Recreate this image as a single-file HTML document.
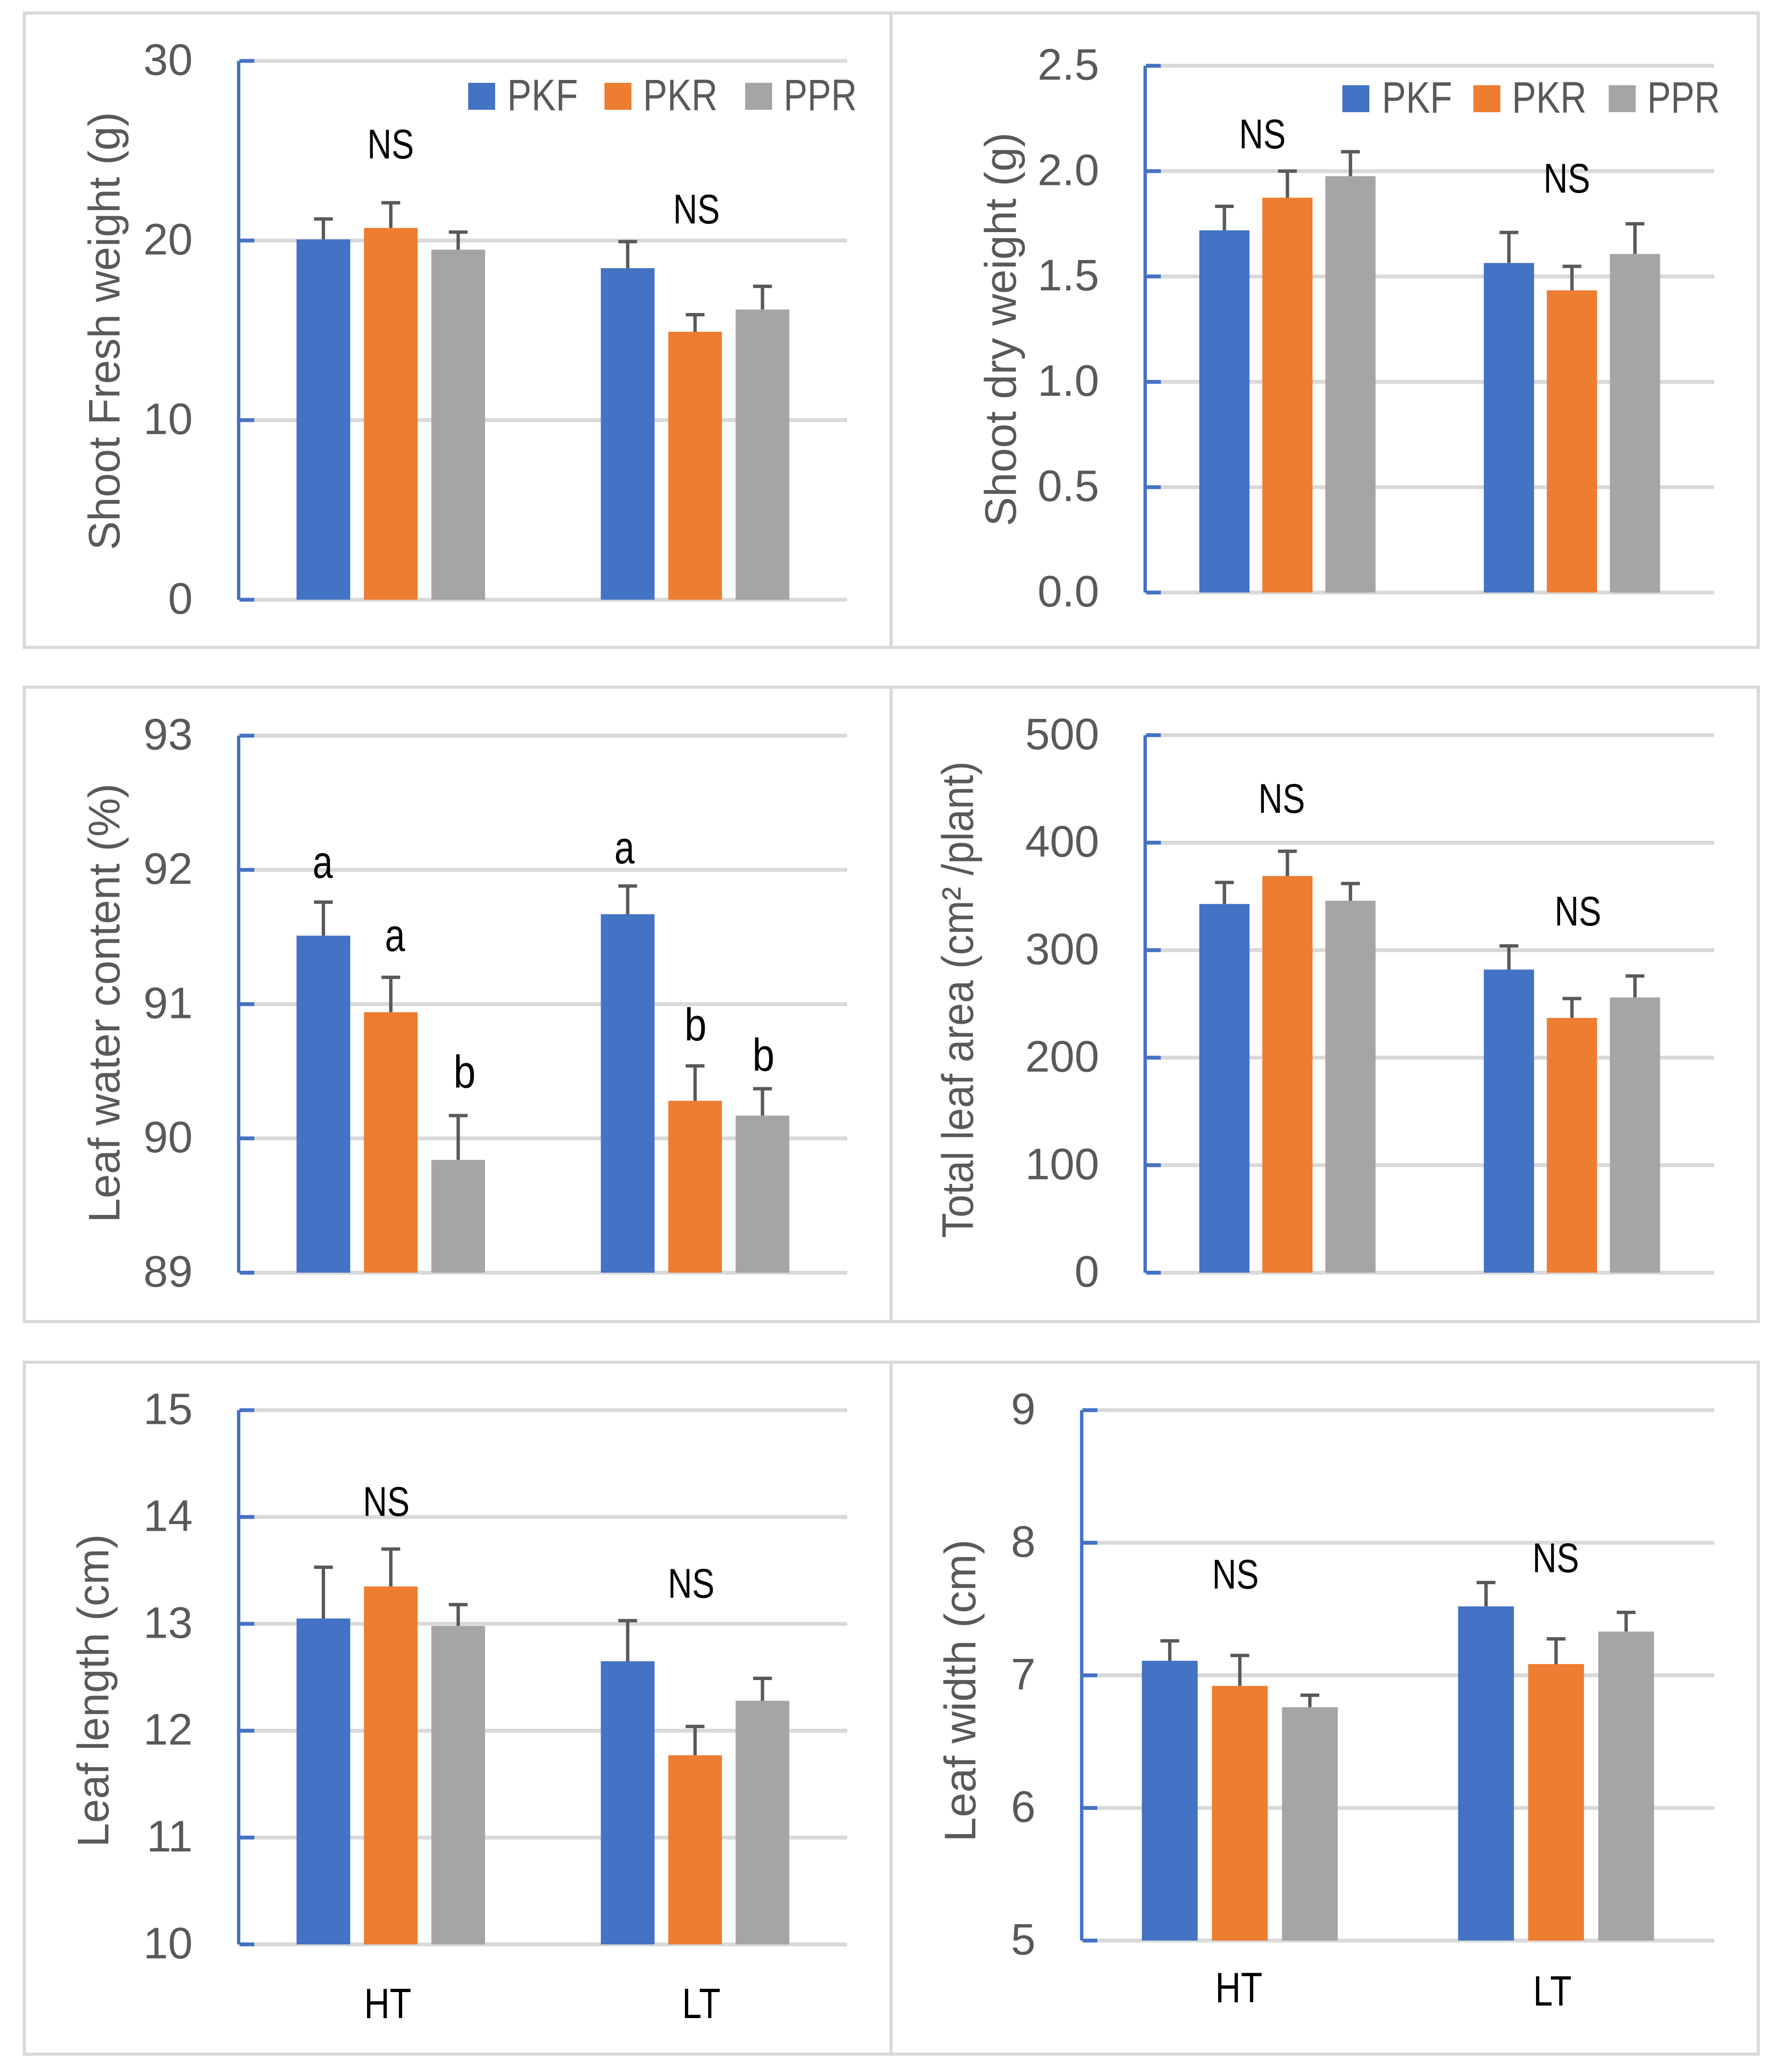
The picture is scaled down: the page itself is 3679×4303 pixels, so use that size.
<!DOCTYPE html>
<html>
<head>
<meta charset="utf-8">
<title>Shoot and leaf traits by cultivar and temperature</title>
<style>
  html, body { margin: 0; padding: 0; background: #ffffff; }
  svg { display: block; font-family: "Liberation Sans", sans-serif; }
</style>
</head>
<body>
<svg id="figure" xmlns="http://www.w3.org/2000/svg" width="3679" height="4303" viewBox="0 0 3679 4303">
  <rect x="0" y="0" width="3679" height="4303" fill="#ffffff"/>
</svg>
<script>
// ---------- shared categories ----------
const categories = ['HT', 'LT'];
const seriesNames = ['PKF', 'PKR', 'PPR'];

// ---------- Shoot fresh weight ----------
const freshTicks = ['0', '10', '20', '30'];
const freshPKF = [20.06, 18.46];
const freshPKR = [20.7, 14.92];
const freshPPR = [19.49, 16.16];
const freshErrPKF = [1.14, 1.48];
const freshErrPKR = [1.4, 0.95];
const freshErrPPR = [0.98, 1.29];

// ---------- Shoot dry weight ----------
const dryTicks = ['0.0', '0.5', '1.0', '1.5', '2.0', '2.5'];
const dryPKF = [1.719, 1.564];
const dryPKR = [1.874, 1.434];
const dryPPR = [1.976, 1.607];
const dryErrPKF = [0.114, 0.145];
const dryErrPKR = [0.126, 0.114];
const dryErrPPR = [0.116, 0.143];

// ---------- Leaf water content ----------
const waterTicks = ['89', '90', '91', '92', '93'];
const waterPKF = [91.51, 91.67];
const waterPKR = [90.94, 90.28];
const waterPPR = [89.84, 90.17];
const waterErrPKF = [0.25, 0.21];
const waterErrPKR = [0.26, 0.26];
const waterErrPPR = [0.33, 0.2];

// ---------- Total leaf area ----------
const areaTicks = ['0', '100', '200', '300', '400', '500'];
const areaPKF = [343, 282];
const areaPKR = [369, 237];
const areaPPR = [346, 256];
const areaErrPKF = [20, 22];
const areaErrPKR = [23, 18];
const areaErrPPR = [16, 20];

// ---------- Leaf length ----------
const lengthTicks = ['10', '11', '12', '13', '14', '15'];
const lengthPKF = [13.05, 12.65];
const lengthPKR = [13.35, 11.77];
const lengthPPR = [12.98, 12.28];
const lengthErrPKF = [0.48, 0.38];
const lengthErrPKR = [0.35, 0.27];
const lengthErrPPR = [0.2, 0.21];

// ---------- Leaf width ----------
const widthTicks = ['5', '6', '7', '8', '9'];
const widthPKF = [7.11, 7.52];
const widthPKR = [6.92, 7.085];
const widthPPR = [6.76, 7.33];
const widthErrPKF = [0.15, 0.18];
const widthErrPKR = [0.23, 0.19];
const widthErrPPR = [0.09, 0.145];

// ---------- colours / constants ----------
const COLORS = ['#4472c4', '#ed7d31', '#a5a5a5'];
const GRID = '#d9d9d9';
const INK = '#595959';
const LW = 7;
const SLUG = ['pkf', 'pkr', 'ppr'];

const svg = document.getElementById('figure');
const NS = 'http://www.w3.org/2000/svg';

function mk(tag, attrs, text) {
  const node = document.createElementNS(NS, tag);
  Object.keys(attrs).forEach(function (k) { node.setAttribute(k, attrs[k]); });
  if (text !== undefined) node.textContent = text;
  svg.appendChild(node);
  return node;
}

function drawChart(c) {
  const prefix = c.id;
  const tickNums = c.ticks.map(Number);
  const vMin = tickNums[0];
  const vMax = tickNums[tickNums.length - 1];
  const yScale = function (v) { return c.yBot + (v - vMin) * (c.yTop - c.yBot) / (vMax - vMin); };
  const catW = (c.x1 - c.x0) / categories.length;
  const barW = catW * 0.1765;
  const step = catW * 0.2215;
  const xCenter = function (ci, si) { return c.x0 + catW * (ci + 0.5) + (si - 1) * step; };

  // panel frame
  const frame = mk('rect', { x: c.box[0], y: c.box[1], width: c.box[2], height: c.box[3], fill: 'none', stroke: GRID, 'stroke-width': 6.5 });
  
  

  // gridlines
  c.ticks.forEach(function (t) {
    const y = yScale(Number(t));
    const g = mk('line', { x1: c.x0, x2: c.x1, y1: y, y2: y, stroke: GRID, 'stroke-width': LW + 1 });
    
    
  });

  // axis line
  const axis = mk('line', { x1: c.x0, x2: c.x0, y1: c.yTop, y2: c.yBot, stroke: COLORS[0], 'stroke-width': LW });
  
  

  // ticks + tick labels
  c.ticks.forEach(function (t) {
    const y = yScale(Number(t));
    const tk = mk('line', { x1: c.x0 + 2, x2: c.x0 + 32.5, y1: y, y2: y, stroke: COLORS[0], 'stroke-width': LW + 1 });
    
    
    const lb = mk('text', { x: c.tickRight, y: y + 29, 'text-anchor': 'end', 'font-size': 92, fill: INK }, t);
    
    
  });

  // bars and error bars
  c.series.forEach(function (vals, si) {
    vals.forEach(function (v, ci) {
      const cx = xCenter(ci, si);
      const top = yScale(v);
      const errTop = yScale(v + c.errors[si][ci]);
      const stem = mk('line', { x1: cx, x2: cx, y1: top, y2: errTop, stroke: INK, 'stroke-width': LW });
      
      
      const cap = mk('line', { x1: cx - 19.5, x2: cx + 19.5, y1: errTop, y2: errTop, stroke: INK, 'stroke-width': LW });
      
      
      const bar = mk('rect', { x: cx - barW / 2, y: top, width: barW, height: yScale(vMin) - top, fill: COLORS[si] });
      
      
    });
  });

  // y-axis title
  const title = mk('text', {
    transform: 'translate(' + c.titleX + ',' + c.titleY + ') rotate(-90)',
    'text-anchor': 'middle', 'font-size': 92, fill: INK,
    textLength: c.titleLen, lengthAdjust: 'spacingAndGlyphs'
  }, c.title);
  
  

  // annotations
  c.notes.forEach(function (n, i) {
    const isNS = n[0] === 'NS';
    const attrs = isNS
      ? { x: n[1], y: n[2] + 29, 'text-anchor': 'middle', 'font-size': 86, fill: '#000000', textLength: 97, lengthAdjust: 'spacingAndGlyphs' }
      : { x: n[1], y: n[2], 'text-anchor': 'middle', 'font-size': 96, fill: '#000000', textLength: n[0] === 'a' ? 42 : 46, lengthAdjust: 'spacingAndGlyphs' };
    const note = mk('text', attrs, n[0]);
    
    
  });

  // category labels
  if (c.catLabels) {
    c.catLabels.forEach(function (p, i) {
      const lab = mk('text', {
        x: p[0], y: p[1] + 30, 'text-anchor': 'middle', 'font-size': 88, fill: '#000000',
        textLength: i === 0 ? 98 : 80, lengthAdjust: 'spacingAndGlyphs'
      }, categories[i]);
      
      
    });
  }

  // legend
  if (c.legend) {
    c.legend.swatches.forEach(function (sx, i) {
      const sw = mk('rect', { x: sx, y: c.legend.y, width: 56, height: 56, fill: COLORS[i] });
      
      
      const lt = mk('text', {
        x: c.legend.labels[i], y: c.legend.y + 57, 'font-size': 92, fill: INK,
        textLength: c.legend.widths[i], lengthAdjust: 'spacingAndGlyphs'
      }, seriesNames[i]);
      
      
    });
  }
}

drawChart({
  id: 'shoot-fresh', title: 'Shoot Fresh weight (g)', ticks: freshTicks,
  series: [freshPKF, freshPKR, freshPPR], errors: [freshErrPKF, freshErrPKR, freshErrPPR],
  x0: 495.5, x1: 1759, yTop: 126.5, yBot: 1245.5, tickRight: 400,
  box: [50.5, 27, 1799.5, 1317.5], titleX: 248, titleY: 687.5, titleLen: 910,
  notes: [['NS', 811, 300], ['NS', 1446, 435]],
  legend: { y: 172, swatches: [972, 1255, 1547], labels: [1053, 1335, 1627], widths: [147, 155, 152] }
});
drawChart({
  id: 'shoot-dry', title: 'Shoot dry weight (g)', ticks: dryTicks,
  series: [dryPKF, dryPKR, dryPPR], errors: [dryErrPKF, dryErrPKR, dryErrPPR],
  x0: 2377.6, x1: 3559, yTop: 136.6, yBot: 1230.5, tickRight: 2282,
  box: [1850, 27, 1800.5, 1317.5], titleX: 2109, titleY: 684, titleLen: 818,
  notes: [['NS', 2621, 279], ['NS', 3253, 371]],
  legend: { y: 177, swatches: [2787, 3059, 3340], labels: [2869, 3139, 3420], widths: [146, 155, 151] }
});
drawChart({
  id: 'leaf-water', title: 'Leaf water content (%)', ticks: waterTicks,
  series: [waterPKF, waterPKR, waterPPR], errors: [waterErrPKF, waterErrPKR, waterErrPPR],
  x0: 495.5, x1: 1759, yTop: 1527.7, yBot: 2643, tickRight: 400,
  box: [50.5, 1427, 1799.5, 1317.5], titleX: 248, titleY: 2083, titleLen: 912,
  notes: [['a', 670, 1823], ['a', 820, 1975], ['b', 964.5, 2259], ['a', 1296.5, 1793], ['b', 1444, 2161], ['b', 1585, 2224]]
});
drawChart({
  id: 'leaf-area', title: 'Total leaf area (cm\u00B2 /plant)', ticks: areaTicks,
  series: [areaPKF, areaPKR, areaPPR], errors: [areaErrPKF, areaErrPKR, areaErrPPR],
  x0: 2377.6, x1: 3559, yTop: 1526.8, yBot: 2643, tickRight: 2282,
  box: [1850, 1427, 1800.5, 1317.5], titleX: 2020, titleY: 2076, titleLen: 990,
  notes: [['NS', 2661, 1659], ['NS', 3276, 1893]]
});
drawChart({
  id: 'leaf-length', title: 'Leaf length (cm)', ticks: lengthTicks,
  series: [lengthPKF, lengthPKR, lengthPPR], errors: [lengthErrPKF, lengthErrPKR, lengthErrPPR],
  x0: 495.5, x1: 1759, yTop: 2928.5, yBot: 4038, tickRight: 400,
  box: [50.5, 2829, 1799.5, 1437], titleX: 225, titleY: 3511, titleLen: 650,
  notes: [['NS', 802, 3119], ['NS', 1435, 3289]],
  catLabels: [[805, 4161], [1456, 4161]]
});
drawChart({
  id: 'leaf-width', title: 'Leaf width (cm)', ticks: widthTicks,
  series: [widthPKF, widthPKR, widthPPR], errors: [widthErrPKF, widthErrPKR, widthErrPPR],
  x0: 2245.8, x1: 3559, yTop: 2928.5, yBot: 4030, tickRight: 2150,
  box: [1850, 2829, 1800.5, 1437], titleX: 2025, titleY: 3511, titleLen: 628,
  notes: [['NS', 2565, 3270], ['NS', 3230, 3236]],
  catLabels: [[2572, 4128], [3223, 4135]]
});
</script>
</body>
</html>
